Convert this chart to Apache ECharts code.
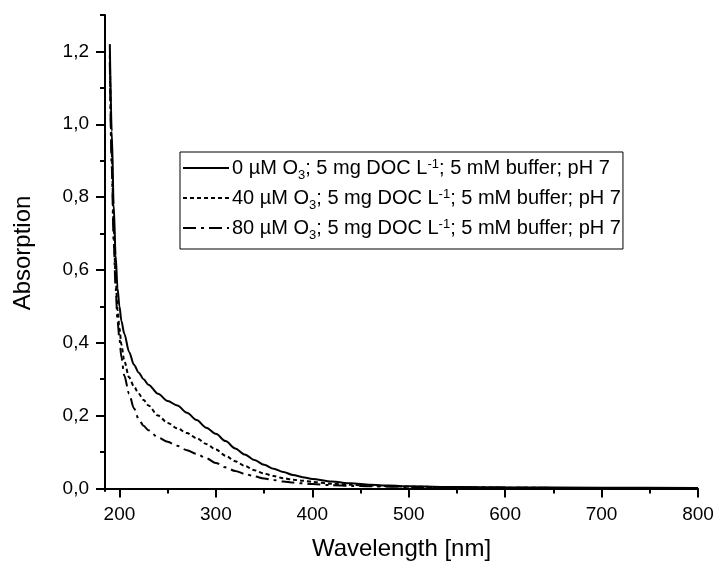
<!DOCTYPE html>
<html>
<head>
<meta charset="utf-8">
<script src="https://cdn.jsdelivr.net/npm/echarts@6/dist/echarts.min.js"></script>
<style>html,body{margin:0;padding:0;background:#fff}#c{width:719px;height:567px}</style>
</head>
<body>
<div id="c"></div>
<script>
// Wavelength grid [nm]
const wavelength = [190,192,194,196,198,200,202,205,210,215,220,225,230,240,250,260,270,280,290,300,310,320,330,340,350,360,370,380,390,400,420,440,460,480,500,550,600,700,800];
// 0 µM O3
const abs0 = [1.22,0.98,0.78,0.64,0.55,0.50,0.46,0.425,0.375,0.34,0.318,0.30,0.285,0.26,0.24,0.228,0.208,0.188,0.167,0.150,0.130,0.110,0.093,0.078,0.065,0.054,0.045,0.037,0.031,0.026,0.019,0.014,0.010,0.008,0.006,0.004,0.003,0.002,0.001];
// 40 µM O3
const abs40 = [1.19,0.92,0.72,0.58,0.49,0.44,0.395,0.35,0.305,0.28,0.26,0.243,0.228,0.200,0.180,0.165,0.152,0.138,0.122,0.107,0.090,0.075,0.062,0.050,0.041,0.034,0.028,0.024,0.021,0.018,0.013,0.010,0.008,0.006,0.005,0.003,0.002,0.001,0.001];
// 80 µM O3
const abs80 = [1.17,0.88,0.68,0.55,0.46,0.41,0.36,0.31,0.26,0.22,0.19,0.172,0.16,0.14,0.128,0.117,0.105,0.095,0.083,0.070,0.058,0.048,0.040,0.033,0.027,0.023,0.019,0.016,0.014,0.012,0.009,0.007,0.006,0.005,0.004,0.003,0.002,0.001,0.001];

const seriesNames = ['0 µM', '40 µM', '80 µM'];
const ozoneConc = ['0', '40', '80'];

const xMajorTicks = [200,300,400,500,600,700,800];
const xMinorTicks = [250,350,450,550,650,750];
const yMajorTicks = [0,0.2,0.4,0.6,0.8,1.0,1.2];
const yMinorTicks = [0.1,0.3,0.5,0.7,0.9,1.1,1.3];

const FONT = '"Liberation Sans", Arial, sans-serif';
const X_MIN = 185, X_MAX = 800, Y_MIN = -0.007, Y_MAX = 1.3;

const chart = echarts.init(document.getElementById('c'), null, {renderer: 'canvas'});

function pairs(ys) { return wavelength.map((w, i) => [w, ys[i]]); }

const styles = [
  {type: 'solid'},
  {type: [4, 3]},
  {type: [13, 5, 3, 5]}
];
const allData = [abs0, abs40, abs80];

const option = {
  animation: false,
  backgroundColor: '#fff',
  grid: {left: 105, right: 21, top: 15, bottom: 76, outerBoundsMode: 'none'},
  legend: {
    orient: 'vertical',
    left: 180, top: 152,
    padding: [6, 2, 7, 2],
    itemWidth: 46, itemHeight: 20, itemGap: 6,
    borderColor: '#000', borderWidth: 1,
    itemStyle: {opacity: 0, color: 'transparent', borderWidth: 0},
    data: seriesNames,
    formatter: function (name) {
      const i = seriesNames.indexOf(name);
      return '{n|' + ozoneConc[i] + ' µM O}{sub|3}{n|; 5 mg DOC L}{sup|-1}{n|; 5 mM buffer; pH 7}';
    },
    textStyle: {
      fontFamily: FONT, fontSize: 20, color: '#000', padding: [0,0,0,-2],
      rich: {
        n: {fontFamily: FONT, fontSize: 20, color: '#000', lineHeight: 20},
        sub: {fontFamily: FONT, fontSize: 13, color: '#000', verticalAlign: 'bottom', lineHeight: 20, padding: [0,0,-4,0]},
        sup: {fontFamily: FONT, fontSize: 13, color: '#000', verticalAlign: 'top', lineHeight: 20}
      }
    }
  },
  xAxis: [
    {
      type: 'value', min: X_MIN, max: X_MAX, position: 'bottom',
      name: 'Wavelength [nm]', nameLocation: 'middle', nameGap: 46,
      nameTextStyle: {fontFamily: FONT, fontSize: 24, color: '#000'},
      axisLine: {show: true, lineStyle: {color: '#000', width: 2}},
      axisTick: {show: true, customValues: xMajorTicks, length: 9, lineStyle: {color: '#000', width: 2}},
      axisLabel: {show: true, customValues: xMajorTicks, margin: 14, fontFamily: FONT, fontSize: 19, color: '#000'},
      splitLine: {show: false}
    },
    {
      type: 'value', min: X_MIN, max: X_MAX, position: 'bottom', gridIndex: 0,
      axisLine: {show: false},
      axisTick: {show: true, customValues: xMinorTicks, length: 5, lineStyle: {color: '#000', width: 2}},
      axisLabel: {show: false},
      splitLine: {show: false}
    }
  ],
  yAxis: [
    {
      type: 'value', min: Y_MIN, max: Y_MAX, position: 'left',
      name: 'Absorption', nameLocation: 'middle', nameGap: 70, nameRotate: 90,
      nameTextStyle: {fontFamily: FONT, fontSize: 24, color: '#000'},
      axisLine: {show: true, lineStyle: {color: '#000', width: 2}},
      axisTick: {show: true, customValues: yMajorTicks, length: 9, lineStyle: {color: '#000', width: 2}},
      axisLabel: {show: true, customValues: yMajorTicks, margin: 16, fontFamily: FONT, fontSize: 19, color: '#000',
        formatter: v => v.toFixed(1).replace('.', ',')},
      splitLine: {show: false}
    },
    {
      type: 'value', min: Y_MIN, max: Y_MAX, position: 'left', gridIndex: 0,
      axisLine: {show: false},
      axisTick: {show: true, customValues: yMinorTicks, length: 5, lineStyle: {color: '#000', width: 2}},
      axisLabel: {show: false},
      splitLine: {show: false}
    }
  ],
  series: seriesNames.map((name, i) => ({
    name: name,
    type: 'line',
    xAxisIndex: 0, yAxisIndex: 0,
    data: pairs(allData[i]),
    showSymbol: false, symbol: 'none',
    smooth: 0.3, smoothMonotone: 'x',
    lineStyle: {color: '#000', width: 2, type: styles[i].type},
    itemStyle: {color: '#000'},
    clip: true
  }))
};
chart.setOption(option);
</script>
</body>
</html>
